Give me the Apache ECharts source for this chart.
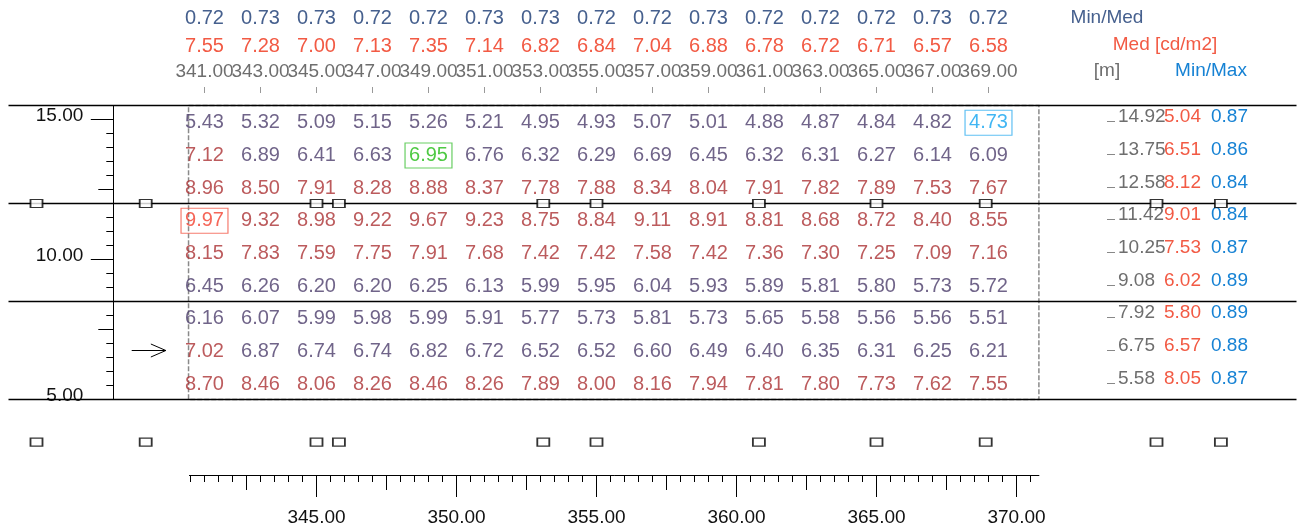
<!DOCTYPE html>
<html><head><meta charset="utf-8">
<script src="https://cdn.jsdelivr.net/npm/echarts@6/dist/echarts.min.js"></script>
<style>html,body{margin:0;padding:0;background:#fff}#c{width:1300px;height:527px}</style>
</head><body><div id="c"></div>
<script>
// ---- data ----
const columns = [341,343,345,347,349,351,353,355,357,359,361,363,365,367,369];
const colMinMed = [0.72,0.73,0.73,0.72,0.72,0.73,0.73,0.72,0.72,0.73,0.72,0.72,0.72,0.73,0.72];
const colMed = [7.55,7.28,7.00,7.13,7.35,7.14,6.82,6.84,7.04,6.88,6.78,6.72,6.71,6.57,6.58];
const rowY = [14.92,13.75,12.58,11.42,10.25,9.08,7.92,6.75,5.58];
const rowMed = [5.04,6.51,8.12,9.01,7.53,6.02,5.80,6.57,8.05];
const rowMinMax = [0.87,0.86,0.84,0.84,0.87,0.89,0.89,0.88,0.87];
const row1 = [5.43,5.32,5.09,5.15,5.26,5.21,4.95,4.93,5.07,5.01,4.88,4.87,4.84,4.82,4.73];
const row2 = [7.12,6.89,6.41,6.63,6.95,6.76,6.32,6.29,6.69,6.45,6.32,6.31,6.27,6.14,6.09];
const row3 = [8.96,8.50,7.91,8.28,8.88,8.37,7.78,7.88,8.34,8.04,7.91,7.82,7.89,7.53,7.67];
const row4 = [9.97,9.32,8.98,9.22,9.67,9.23,8.75,8.84,9.11,8.91,8.81,8.68,8.72,8.40,8.55];
const row5 = [8.15,7.83,7.59,7.75,7.91,7.68,7.42,7.42,7.58,7.42,7.36,7.30,7.25,7.09,7.16];
const row6 = [6.45,6.26,6.20,6.20,6.25,6.13,5.99,5.95,6.04,5.93,5.89,5.81,5.80,5.73,5.72];
const row7 = [6.16,6.07,5.99,5.98,5.99,5.91,5.77,5.73,5.81,5.73,5.65,5.58,5.56,5.56,5.51];
const row8 = [7.02,6.87,6.74,6.74,6.82,6.72,6.52,6.52,6.60,6.49,6.40,6.35,6.31,6.25,6.21];
const row9 = [8.70,8.46,8.06,8.26,8.46,8.26,7.89,8.00,8.16,7.94,7.81,7.80,7.73,7.62,7.55];
const laneLines = [15.5, 12.0, 8.5, 5.0];
const fieldX = [340.43, 370.8];
const fieldY = [5.0, 15.5];
const luminaireX = [335.0, 338.9, 345.0, 345.8, 353.1, 355.0, 360.8, 365.0, 368.9, 375.0, 377.3];
const luminaireY = [12.0, 3.48];
const observer = [338.4, 339.62, 6.75];
const yMajorLabels = [5, 10, 15];
const yMidTicks = [7.5, 12.5];
const xMajorLabels = [345, 350, 355, 360, 365, 370];
const xMidTicks = [342.5, 347.5, 352.5, 357.5, 362.5, 367.5];

// ---- styling ----
const FONT = 'Liberation Sans, Arial, Helvetica, sans-serif';
const C_PURPLE = '#4c3d6c', C_RED = '#ab3234', C_SLATE = '#46608e', C_ORANGE = '#f25a44',
      C_GRAY = '#6e6e6e', C_BLUE = '#1682d4';
const rows = [row1,row2,row3,row4,row5,row6,row7,row8,row9];

const halfX = []; for (let k = 681; k <= 741; k++) halfX.push(k / 2);
const halfY = []; for (let k = 10; k <= 30; k++) halfY.push(k / 2);
const colsEven = columns.filter((c, i) => i % 2 === 0);
const colsOdd = columns.filter((c, i) => i % 2 === 1);

const all = rows.flat();
const vMin = Math.min(...all), vMax = Math.max(...all);
const vMean = all.reduce((a,b)=>a+b,0)/all.length;
let closest = all[0]; all.forEach(v => { if (Math.abs(v - vMean) < Math.abs(closest - vMean)) closest = v; });

const BOX = {borderWidth:1.2, padding:[3,4,2,4]};
const cellData = [];
rows.forEach((r, ri) => r.forEach((v, ci) => {
  let lab = {color: v >= 7.0 ? C_RED : C_PURPLE};
  if (v === vMax) lab = Object.assign({color:'#f2402e', borderColor:'#f25a4a'}, BOX);
  else if (v === vMin) lab = Object.assign({color:'#12a4f0', borderColor:'#38b0f0'}, BOX);
  else if (v === closest) lab = Object.assign({color:'#22bb14', borderColor:'#44c23c'}, BOX);
  cellData.push({value:[columns[ci], rowY[ri], v], label: lab});
}));

const lumData = [];
luminaireY.forEach(y => luminaireX.forEach(x => lumData.push([x, y])));

const idx = (arr, v) => arr.findIndex(a => Math.abs(a - v) < 1e-6);

function lbl(extra) {
  return Object.assign({show:true, fontFamily:FONT, hideOverlap:false, showMinLabel:true, showMaxLabel:true}, extra);
}
function headerPosAxis(vals, withTicks) {
  return {gridIndex:3, type:'value', min:334, max:380, position:'top',
    axisLine:{show:false, onZero:false},
    axisTick:{show:withTicks, customValues: columns, length:6, lineStyle:{color:'#999'}},
    axisLabel:lbl({customValues: vals, formatter: v => v.toFixed(2), margin:11.5,
      color:C_GRAY, fontSize:19, lineHeight:20}),
    splitLine:{show:false}};
}

const option = {
  animation: false,
  backgroundColor: '#fff',
  textStyle: {fontFamily: FONT},
  grid: [
    {left: 8.5, top: 7.5, width: 1288, height: 504, outerBoundsMode: 'none'},
    {left: 113.3, top: 105.5, width: 70, height: 294, outerBoundsMode: 'none'},
    {left: 189.4, top: 400, width: 849.5, height: 75, outerBoundsMode: 'none'},
    {left: 8.5, top: 93, width: 1288, height: 20, outerBoundsMode: 'none'},
    {left: 900, top: 105.5, width: 207, height: 294, outerBoundsMode: 'none'}
  ],
  xAxis: [
    {gridIndex:0, type:'value', min:334, max:380, show:false},
    {gridIndex:1, type:'value', min:0, max:1, show:false},
    {gridIndex:2, type:'value', min:340.46, max:370.8, position:'bottom',
      axisLine:{show:true, onZero:false, lineStyle:{color:'#000', width:1}},
      axisTick:{show:true, customValues: halfX, length:7, lineStyle:{color:'#000'}},
      axisLabel:{show:false}, splitLine:{show:false}},
    {gridIndex:2, type:'value', min:340.46, max:370.8, position:'bottom',
      axisLine:{show:false, onZero:false},
      axisTick:{show:true, customValues: xMidTicks, length:15, lineStyle:{color:'#000'}},
      axisLabel:{show:false}, splitLine:{show:false}},
    {gridIndex:2, type:'value', min:340.46, max:370.8, position:'bottom',
      axisLine:{show:false, onZero:false},
      axisTick:{show:true, customValues: xMajorLabels, length:22, lineStyle:{color:'#000'}},
      axisLabel:lbl({customValues: xMajorLabels, formatter: v => v.toFixed(2), margin:33,
        color:'#111', fontSize:19, lineHeight:20}),
      splitLine:{show:false}},
    headerPosAxis(colsEven, true),
    headerPosAxis(colsOdd, false),
    {gridIndex:3, type:'value', min:334, max:380, position:'top', offset:26,
      axisLine:{show:false, onZero:false}, axisTick:{show:false},
      axisLabel:lbl({customValues: columns, formatter: v => colMed[idx(columns, v)].toFixed(2), margin:11,
        color:C_ORANGE, fontSize:20, lineHeight:20}),
      splitLine:{show:false}},
    {gridIndex:3, type:'value', min:334, max:380, position:'top', offset:52.5,
      axisLine:{show:false, onZero:false}, axisTick:{show:false},
      axisLabel:lbl({customValues: columns, formatter: v => colMinMed[idx(columns, v)].toFixed(2), margin:11.8,
        color:C_SLATE, fontSize:20, lineHeight:20}),
      splitLine:{show:false}},
    {gridIndex:4, type:'value', min:0, max:1, show:false}
  ],
  yAxis: [
    {gridIndex:0, type:'value', min:1, max:19, show:false},
    {gridIndex:1, type:'value', min:5, max:15.5, position:'left',
      axisLine:{show:true, onZero:false, lineStyle:{color:'#000', width:1}},
      axisTick:{show:true, customValues: halfY, length:7, lineStyle:{color:'#000'}},
      axisLabel:{show:false}, splitLine:{show:false}},
    {gridIndex:1, type:'value', min:5, max:15.5, position:'left',
      axisLine:{show:false, onZero:false},
      axisTick:{show:true, customValues: yMidTicks, length:15, lineStyle:{color:'#000'}},
      axisLabel:{show:false}, splitLine:{show:false}},
    {gridIndex:1, type:'value', min:5, max:15.5, position:'left',
      axisLine:{show:false, onZero:false},
      axisTick:{show:true, customValues: yMajorLabels, length:22.5, lineStyle:{color:'#000'}},
      axisLabel:lbl({customValues: yMajorLabels, formatter: v => v.toFixed(2), margin:30,
        verticalAlign:'bottom', lineHeight:8, color:'#111', fontSize:19}),
      splitLine:{show:false}},
    {gridIndex:2, type:'value', min:0, max:1, show:false},
    {gridIndex:3, type:'value', min:0, max:1, show:false},
    {gridIndex:4, type:'value', min:5, max:15.5, position:'right',
      axisLine:{show:false, onZero:false},
      axisTick:{show:true, customValues: rowY, length:8, lineStyle:{color:'#888'}},
      axisLabel:lbl({customValues: rowY, formatter: v => v.toFixed(2), margin:11, align:'left',
        verticalAlign:'bottom', lineHeight:9, color:C_GRAY, fontSize:19}),
      splitLine:{show:false}},
    {gridIndex:4, type:'value', min:5, max:15.5, position:'right', offset:57,
      axisLine:{show:false, onZero:false}, axisTick:{show:false},
      axisLabel:lbl({customValues: rowY, formatter: v => rowMed[idx(rowY, v)].toFixed(2), margin:0, align:'left',
        verticalAlign:'bottom', lineHeight:9, color:C_ORANGE, fontSize:19}),
      splitLine:{show:false}},
    {gridIndex:4, type:'value', min:5, max:15.5, position:'right', offset:104,
      axisLine:{show:false, onZero:false}, axisTick:{show:false},
      axisLabel:lbl({customValues: rowY, formatter: v => rowMinMax[idx(rowY, v)].toFixed(2), margin:0, align:'left',
        verticalAlign:'bottom', lineHeight:9, color:C_BLUE, fontSize:19}),
      splitLine:{show:false}}
  ],
  graphic: [
    {type:'text', x:1107, y:18, style:{text:'Min/Med', fill:C_SLATE, font:'19px ' + FONT, align:'center', verticalAlign:'middle', textAlign:'center', textVerticalAlign:'middle'}},
    {type:'text', x:1165, y:45, style:{text:'Med [cd/m2]', fill:C_ORANGE, font:'19px ' + FONT, align:'center', verticalAlign:'middle', textAlign:'center', textVerticalAlign:'middle'}},
    {type:'text', x:1107, y:71, style:{text:'[m]', fill:C_GRAY, font:'19px ' + FONT, align:'center', verticalAlign:'middle', textAlign:'center', textVerticalAlign:'middle'}},
    {type:'text', x:1211, y:71, style:{text:'Min/Max', fill:C_BLUE, font:'19px ' + FONT, align:'center', verticalAlign:'middle', textAlign:'center', textVerticalAlign:'middle'}}
  ],
  series: [
    {
      type:'scatter', xAxisIndex:0, yAxisIndex:0, silent:true, z:3,
      symbol:'rect', symbolSize:1, itemStyle:{color:'rgba(0,0,0,0)'},
      label:{show:true, position:'inside', offset:[0,1], formatter: p => p.value[2].toFixed(2),
        fontSize:20, fontFamily:FONT, lineHeight:20},
      data: cellData,
      markLine:{silent:true, symbol:['none','none'], label:{show:false},
        lineStyle:{color:'#000', width:1.3, type:'solid'},
        data: laneLines.map(y => ({yAxis:y}))},
      markArea:{silent:true, label:{show:false},
        itemStyle:{color:'rgba(0,0,0,0)', borderColor:'#8a8a8a', borderWidth:1.5, borderType:[5,2]},
        data:[[{xAxis:fieldX[0], yAxis:fieldY[1]}, {xAxis:fieldX[1], yAxis:fieldY[0]}]]}
    },
    {
      type:'scatter', xAxisIndex:0, yAxisIndex:0, silent:true, z:6,
      symbol:'rect', symbolSize:[12,8],
      itemStyle:{color:'#fff', borderColor:'#000', borderWidth:1.5},
      data: lumData
    },
    {
      type:'custom', xAxisIndex:0, yAxisIndex:0, silent:true, z:6,
      renderItem: (params, api) => {
        const p0 = api.coord([api.value(0), api.value(2)]);
        const p1 = api.coord([api.value(1), api.value(2)]);
        return {type:'group', children:[
          {type:'line', shape:{x1:p0[0], y1:p0[1], x2:p1[0], y2:p1[1]}, style:{stroke:'#000', lineWidth:1}},
          {type:'polyline', shape:{points:[[p1[0]-15, p1[1]-6.5],[p1[0], p1[1]],[p1[0]-15, p1[1]+6.5]]},
            style:{stroke:'#000', fill:null, lineWidth:1}}
        ]};
      },
      data: [observer]
    }
  ]
};
const chart = echarts.init(document.getElementById('c'), null, {renderer:'canvas'});
chart.setOption(option);
</script>
</body></html>
